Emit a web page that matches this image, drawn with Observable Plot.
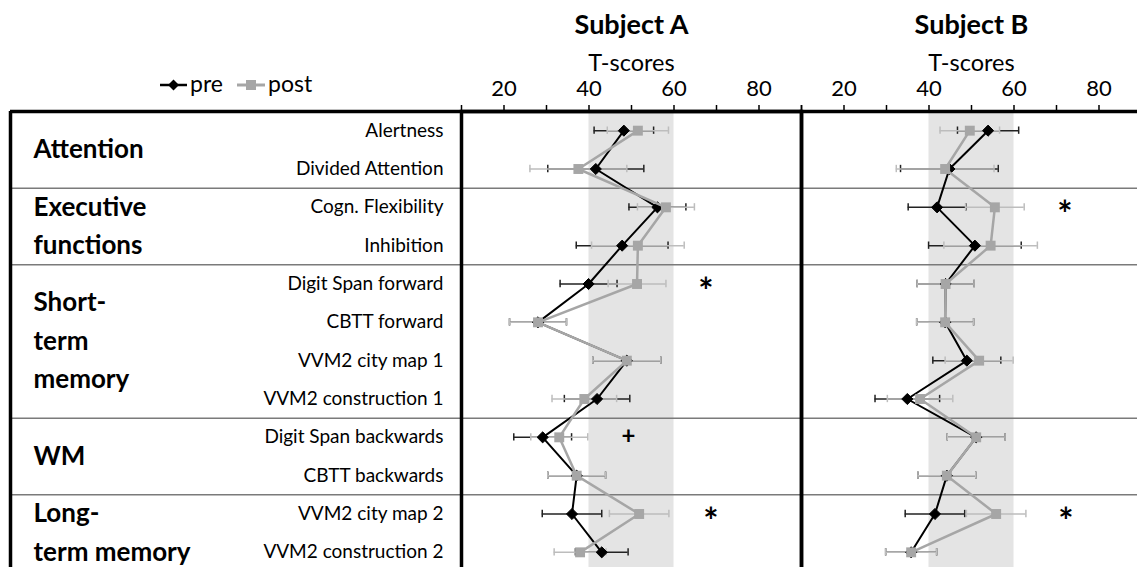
<!DOCTYPE html>
<html><head><meta charset="utf-8">
<script src="https://cdn.jsdelivr.net/npm/d3@7"></script>
<script src="https://cdn.jsdelivr.net/npm/@observablehq/plot@0.6"></script>
<style>
html,body{margin:0;padding:0;overflow:hidden;background:#fff;}
#wrap{position:relative;width:1137px;height:567px;overflow:hidden;font-family:Lato,sans-serif;}
#chart svg{display:block;}
#legend{position:absolute;left:0;top:0;width:460px;height:110px;}
</style></head>
<body><div id="wrap"><div id="chart"></div><div id="legend"></div></div>
<script>
// ---------------- data ----------------
const subjects = ["Subject A", "Subject B"];
const tests = ["Alertness", "Divided Attention", "Cogn. Flexibility", "Inhibition",
  "Digit Span forward", "CBTT forward", "VVM2 city map 1", "VVM2 construction 1",
  "Digit Span backwards", "CBTT backwards", "VVM2 city map 2", "VVM2 construction 2"];
const groupLabels = ["Attention", "Executive\nfunctions", "Short-\nterm\nmemory", "WM", "Long-\nterm memory"];
const groupSizes = [2, 2, 4, 2, 2];
const xLabel = "T-scores";
const xTicks = [10, 20, 30, 40, 50, 60, 70, 80, 90];
const xTickLabels = [20, 40, 60, 80];
const normalRange = [40, 60];
const seriesNames = ["pre", "post"];

const preA     = [48.2, 41.6, 56.1, 47.8, 39.9, 28.0, 48.9, 41.9, 29.1, 37.1, 36.0, 43.0];
const preErrA  = [7.0, 11.3, 6.7, 10.8, 6.7, 6.7, 8.0, 7.7, 6.8, 6.8, 7.0, 6.2];
const postA    = [51.5, 37.5, 58.1, 51.5, 51.3, 28.0, 48.9, 38.9, 33.0, 37.1, 51.8, 37.9];
const postErrA = [7.2, 11.4, 6.7, 10.9, 6.8, 6.7, 8.0, 7.6, 6.7, 6.8, 7.0, 6.1];
const preB     = [53.9, 44.8, 41.9, 50.8, 43.9, 43.8, 48.9, 34.9, 51.1, 44.2, 41.4, 35.8];
const preErrB  = [7.2, 11.5, 6.8, 10.9, 6.7, 6.7, 8.0, 7.6, 6.8, 6.8, 7.0, 6.0];
const postB    = [49.6, 43.8, 55.5, 54.5, 43.9, 43.8, 51.8, 37.9, 51.1, 44.2, 55.8, 35.8];
const postErrB = [7.0, 11.5, 6.9, 11.0, 6.7, 6.7, 8.0, 7.7, 6.8, 6.8, 7.0, 6.0];

const sigSubject = ["Subject A", "Subject A", "Subject A", "Subject B", "Subject B"];
const sigTest    = ["Digit Span forward", "Digit Span backwards", "VVM2 city map 2", "Cogn. Flexibility", "VVM2 city map 2"];
const sigSymbol  = ["*", "+", "*", "*", "*"];
const sigX       = [67.5, 49.3, 68.7, 72.0, 72.2];

// ---------------- tables ----------------
const W = 1141, H = 571, ML = 461, MT = 111;
const bw = (H - MT) / tests.length;
const rows = [];
subjects.forEach((s, si) => {
  const P = [preA, preB][si], PE = [preErrA, preErrB][si];
  const Q = [postA, postB][si], QE = [postErrA, postErrB][si];
  tests.forEach((t, i) => {
    rows.push({subject: s, test: t, phase: seriesNames[0], value: P[i], err: PE[i]});
    rows.push({subject: s, test: t, phase: seriesNames[1], value: Q[i], err: QE[i]});
  });
});
const preRows = rows.filter(d => d.phase === seriesNames[0]);
const postRows = rows.filter(d => d.phase === seriesNames[1]);
let st = 0;
const groups = groupLabels.map((label, g) => { const d = {label, start: st, n: groupSizes[g]}; st += groupSizes[g]; return d; });
const sepTests = groups.slice(1).map(g => tests[g.start]);
const sigRows = sigTest.map((t, i) => ({subject: sigSubject[i], test: t, symbol: sigSymbol[i], x: sigX[i]}));

const PRE = "#000000", POST = "#a6a6a6";
const errMarks = (data, color) => [
  Plot.ruleY(data, {fx: "subject", y: "test", x1: d => d.value - d.err, x2: d => d.value + d.err, stroke: color, strokeWidth: 1.5}),
  Plot.tickX(data, {fx: "subject", y: "test", x: d => d.value - d.err, insetTop: 15.5, insetBottom: 15.5, stroke: color, strokeWidth: 1.5}),
  Plot.tickX(data, {fx: "subject", y: "test", x: d => d.value + d.err, insetTop: 15.5, insetBottom: 15.5, stroke: color, strokeWidth: 1.5})
];

const chart = Plot.plot({
  width: W, height: H, marginLeft: ML, marginRight: 0, marginTop: MT, marginBottom: 0,
  style: {fontFamily: "Lato, sans-serif", maxWidth: "none", overflow: "visible", background: "white", color: "black"},
  fx: {domain: subjects, padding: 0, axis: null, round: false},
  x: {domain: [xTicks[0], xTicks[xTicks.length - 1]]},
  y: {type: "band", domain: tests, padding: 0, round: false, axis: null},
  marks: [
    Plot.barX([normalRange], {x1: d => d[0], x2: d => d[1], fill: "#e4e4e4"}),
    Plot.ruleY(sepTests, {y: d => d, fx: () => subjects[0], dy: -bw / 2, insetLeft: -(ML - 10), stroke: "#7a7a7a", strokeWidth: 1.5}),
    Plot.ruleY(sepTests, {y: d => d, fx: () => subjects[1], dy: -bw / 2, stroke: "#7a7a7a", strokeWidth: 1.5}),
    ...errMarks(preRows, "#222"),
    ...errMarks(postRows, "#bdbdbd"),
    Plot.line(preRows, {fx: "subject", x: "value", y: "test", stroke: PRE, strokeWidth: 2}),
    Plot.dot(preRows, {fx: "subject", x: "value", y: "test", symbol: "diamond2", r: 5, fill: PRE, stroke: PRE, strokeWidth: 1}),
    Plot.line(postRows, {fx: "subject", x: "value", y: "test", stroke: POST, strokeWidth: 2.5}),
    Plot.dot(postRows, {fx: "subject", x: "value", y: "test", symbol: "square", r: 5.6, fill: POST, stroke: "none"}),
    Plot.text(sigRows.filter(d => d.symbol === "*"), {fx: "subject", y: "test", x: "x", text: "symbol", fontSize: 36, fontWeight: "bold", lineAnchor: "middle", dy: 8}),
    Plot.text(sigRows.filter(d => d.symbol === "+"), {fx: "subject", y: "test", x: "x", text: "symbol", fontSize: 24, fontWeight: "bold", lineAnchor: "middle", dy: -1}),
    Plot.frame({stroke: "black", strokeWidth: 3.5}),
    Plot.ruleY([tests[0]], {y: d => d, fx: () => subjects[0], dy: -bw / 2, insetLeft: -(ML - 10), stroke: "black", strokeWidth: 3.5}),
    Plot.ruleX([xTicks[0]], {x: d => d, fx: () => subjects[0], dx: -(ML - 10), stroke: "black", strokeWidth: 3.5}),
    Plot.axisX({anchor: "top", ticks: xTicks, tickFormat: d => xTickLabels.includes(d) ? String(d) : "", tickSize: 7, tickPadding: 9, fontSize: 22, label: null, strokeWidth: 1.5}),
    Plot.axisY({anchor: "left", tickSize: 0, tickPadding: 18, fontSize: 19, label: null}),
    Plot.text(groups, {fx: () => subjects[0], y: d => tests[d.start + d.n / 2 - 1], dy: bw / 2 - 4, text: "label", frameAnchor: "left", dx: -(ML - 33), textAnchor: "start", lineAnchor: "middle", lineHeight: bw / 26, fontSize: 26, fontWeight: "bold"}),
    Plot.text(subjects, {fx: d => d, text: d => d, frameAnchor: "top", lineAnchor: "middle", dy: -86, fontSize: 27, fontWeight: "bold"}),
    Plot.text(subjects, {fx: d => d, text: () => xLabel, frameAnchor: "top", lineAnchor: "middle", dy: -48, fontSize: 23.5})
  ]
});
document.getElementById("chart").appendChild(chart);

// legend
const lg = d3.select("#legend").append("svg").attr("width", 460).attr("height", 110).style("font-family", "Lato, sans-serif");
const ly = 85;
lg.append("line").attr("x1", 160).attr("x2", 187).attr("y1", ly).attr("y2", ly).attr("stroke", PRE).attr("stroke-width", 2.5);
lg.append("path").attr("d", d3.symbol(d3.symbolDiamond2, 77)()).attr("transform", `translate(173.5,${ly})`).attr("fill", PRE);
lg.append("text").attr("x", 190).attr("y", ly).attr("dy", "0.32em").attr("font-size", 23).text(seriesNames[0]);
lg.append("line").attr("x1", 237).attr("x2", 265).attr("y1", ly).attr("y2", ly).attr("stroke", POST).attr("stroke-width", 3);
lg.append("rect").attr("x", 246).attr("y", ly - 5).attr("width", 10).attr("height", 10).attr("fill", POST);
lg.append("text").attr("x", 268).attr("y", ly).attr("dy", "0.32em").attr("font-size", 23).text(seriesNames[1]);
</script>
</body></html>
